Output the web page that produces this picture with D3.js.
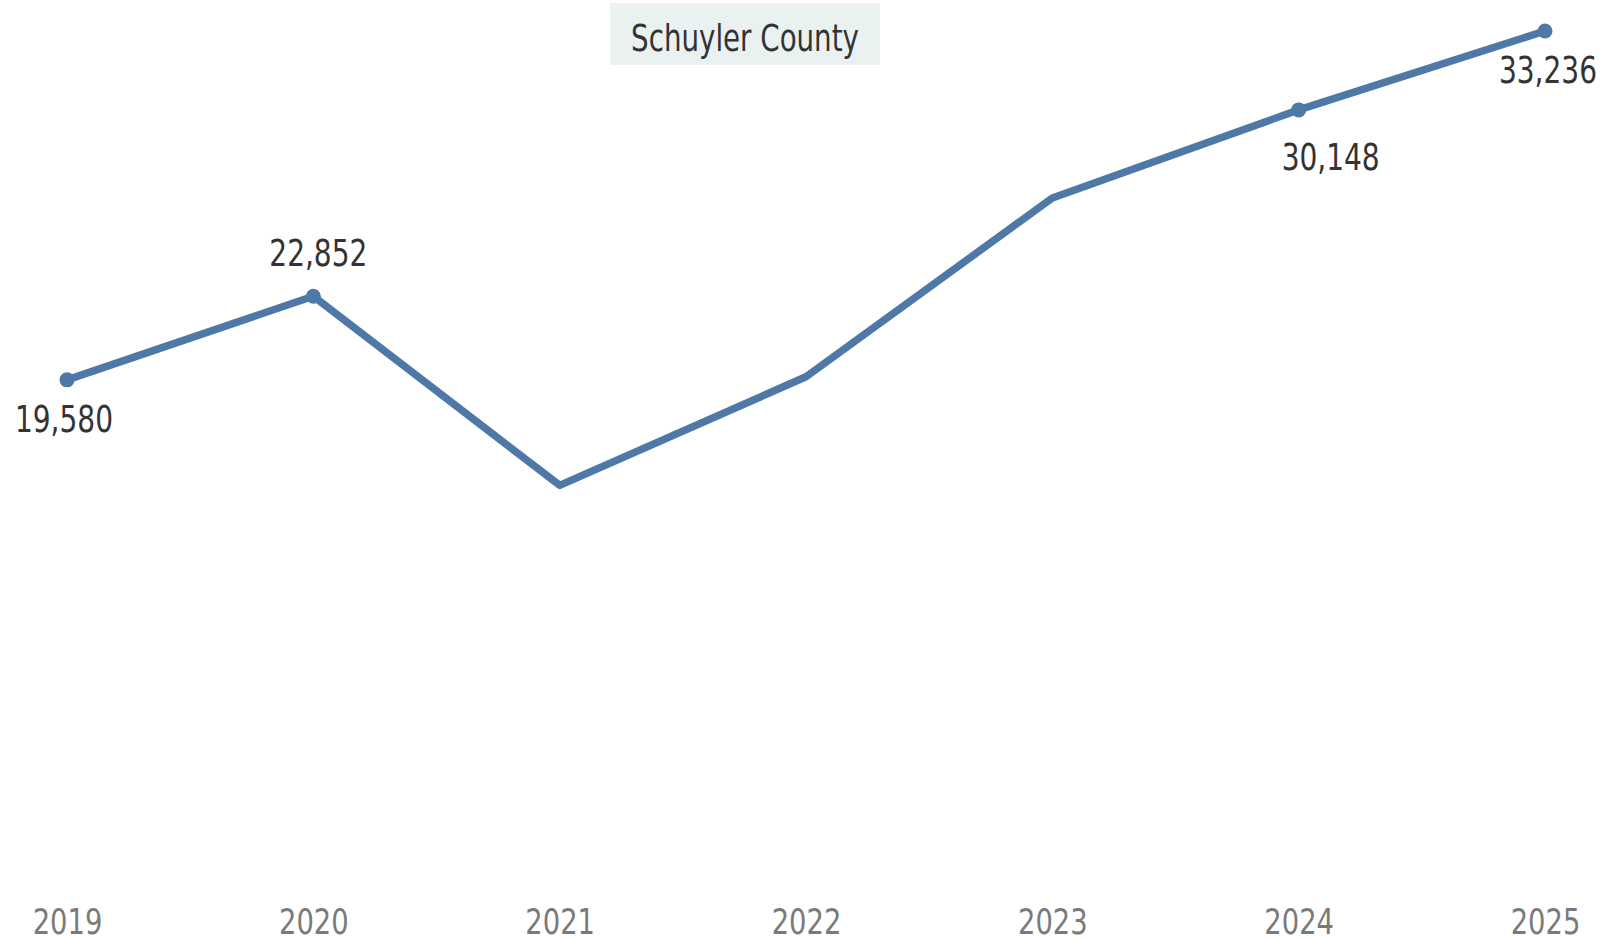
<!DOCTYPE html>
<html lang="en">
<head>
    <meta charset="UTF-8">
    <script src="https://cdn.jsdelivr.net/npm/d3@7"></script>
    <title>Schuyler County</title>
    <style>
        body { margin: 0; background: #fff; }
        text { font-family: "Liberation Sans Narrow", "DejaVu Sans Condensed", "DejaVu Sans", sans-serif; }
    </style>
</head>
<body>
<script>
    // data
    let years = ["2019", "2020", "2021", "2022", "2023", "2024", "2025"];
    let values = [19580, 22852, 15450, 19700, 26700, 30148, 33236];
    // which years get a dot + label, and where the label goes
    let labeledYears = ["2019", "2020", "2024", "2025"];
    let labelShiftX = [-3, 5, 32, 3];      // small nudges, px
    let labelShiftY = [52, -30, 60, 52];
    let title = "Schuyler County";

    let width = 1609, height = 941;
    let lineColor = "#4e79a7";

    // squeeze a text to look like the narrow font of the original
    function condense(sel, k) {
        sel.each(function () {
            let w = this.getComputedTextLength();
            d3.select(this)
                .attr("textLength", w * k)
                .attr("lengthAdjust", "spacingAndGlyphs");
        });
    }

    let svg = d3.select("body")
        .append("svg")
        .attr("width", width)
        .attr("height", height);

    // scales
    let x = d3.scalePoint()
        .domain(years)
        .range([67, 1545]);

    let y = d3.scaleLinear()
        .domain([0, 34450])
        .range([880, 0]);

    // x axis: just the year labels, no line or ticks
    let xAxis = d3.axisBottom(x).tickSize(0).tickPadding(0);
    let gx = svg.append("g")
        .attr("transform", "translate(0, 909)")
        .call(xAxis);
    gx.select(".domain").remove();
    gx.selectAll("text")
        .attr("font-family", null)
        .attr("font-size", 35)
        .attr("fill", "#7a7a7a")
        .call(condense, 0.87);

    // the line
    let line = d3.line()
        .x((d, i) => x(years[i]))
        .y(d => y(d));

    svg.append("path")
        .datum(values)
        .attr("fill", "none")
        .attr("stroke", lineColor)
        .attr("stroke-width", 7.5)
        .attr("stroke-linejoin", "round")
        .attr("stroke-linecap", "round")
        .attr("d", line);

    // dots and value labels on the labelled years
    let marks = labeledYears.map((yr, i) => ({
        year: yr,
        value: values[years.indexOf(yr)],
        dx: labelShiftX[i],
        dy: labelShiftY[i]
    }));

    svg.selectAll(".dot")
        .data(marks)
        .enter()
        .append("circle")
        .attr("class", "dot")
        .attr("cx", d => x(d.year))
        .attr("cy", d => y(d.value))
        .attr("r", 7.5)
        .attr("fill", lineColor);

    svg.selectAll(".valueLabel")
        .data(marks)
        .enter()
        .append("text")
        .attr("class", "valueLabel")
        .attr("x", d => x(d.year) + d.dx)
        .attr("y", d => y(d.value) + d.dy)
        .attr("text-anchor", "middle")
        .attr("font-size", 38)
        .attr("fill", "#333")
        .text(d => d3.format(",")(d.value))
        .call(condense, 0.82);

    // title box
    let tg = svg.append("g");
    tg.append("rect")
        .attr("x", 610)
        .attr("y", 3)
        .attr("width", 270)
        .attr("height", 62)
        .attr("fill", "#e9f1f1");
    tg.append("text")
        .attr("x", 745)
        .attr("y", 51)
        .attr("text-anchor", "middle")
        .attr("font-size", 38)
        .attr("fill", "#333")
        .text(title)
        .call(condense, 0.81);
</script>
</body>
</html>
